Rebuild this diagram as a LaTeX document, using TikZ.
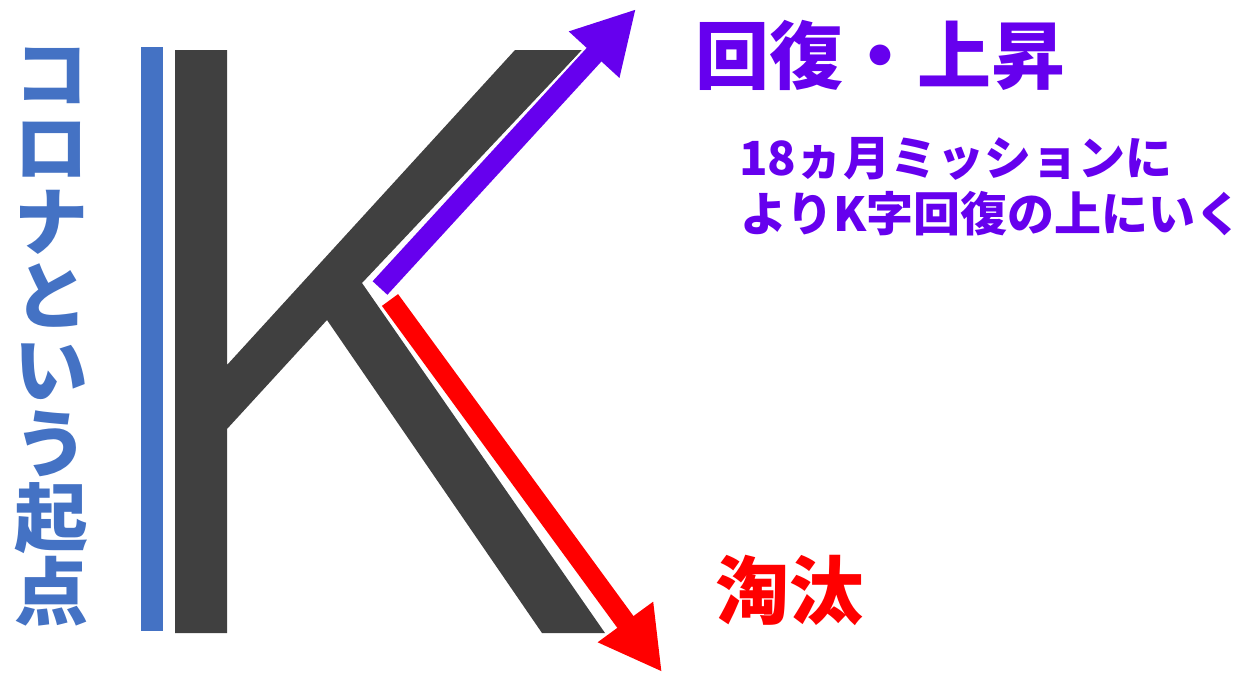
\documentclass[tikz,border=0pt]{standalone}
\usepackage{fontspec}
\newfontfamily\cjk{Noto Sans CJK JP}
\usetikzlibrary{arrows.meta,calc}
\definecolor{kblue}{HTML}{4472C4}
\definecolor{kgray}{HTML}{404040}
\definecolor{kpurple}{HTML}{6600EE}
\definecolor{kred}{HTML}{FF0000}
\begin{document}
\begin{tikzpicture}[x=1pt,y=-1pt,
  jtext/.style={inner sep=0pt, anchor=base west},
  bigtext/.style={jtext, font=\cjk\bfseries\fontsize{74}{74}\selectfont},
  smalltext/.style={jtext, text=kpurple, font=\cjk\bfseries\fontsize{47}{47}\selectfont},
  vtext/.style={inner sep=0pt, anchor=base, text=kblue, font=\cjk\bfseries\fontsize{74}{74}\selectfont},
  arrowwhite/.style={white, line width=24pt, -{Triangle[width=71pt,length=68pt]}},
  arrowp/.style={kpurple, line width=20pt, -{Triangle[width=64pt,length=62pt]}},
  arrowr/.style={kred, line width=20pt, -{Triangle[width=64pt,length=62pt]}}]
\useasboundingbox (0,0) rectangle (1255,673);
% start bar
\fill[kblue] (141,47) rectangle (163,631);
% letter K
\fill[kgray] (175,50) -- (227,50) -- (227,365) -- (515,50) -- (582,50) -- (362,283)
  -- (605,633) -- (542,633) -- (327,320) -- (227,429) -- (227,633) -- (175,633) -- cycle;
% arrows
\coordinate (pa) at (380,288);
\coordinate (pb) at (636,9);
\coordinate (ra) at (390,300);
\coordinate (rb) at (662,672);
\draw[arrowwhite] ($(pa)!-2pt!(pb)$) -- ($(pb)!-4pt!(pa)$);
\draw[arrowp] (pa) -- (pb);
\draw[arrowwhite] ($(ra)!-2pt!(rb)$) -- ($(rb)!-4pt!(ra)$);
\draw[arrowr] (ra) -- (rb);
% texts
\node[bigtext, text=kpurple] (up) at (695,83) {回復・上昇};
\node[bigtext, text=kred] (down) at (715,618) {淘汰};
\node[smalltext] (m1) at (739,175) {18ヵ月ミッションに};
\node[smalltext] (m2) at (740,231) {よりK字回復の上にいく};
\foreach \c [count=\i] in {コ,ロ,ナ,と,い,う,起,点}
  \node[vtext] (v\i) at (51,{101+74*(\i-1)}) {\c};
\end{tikzpicture}
\end{document}
